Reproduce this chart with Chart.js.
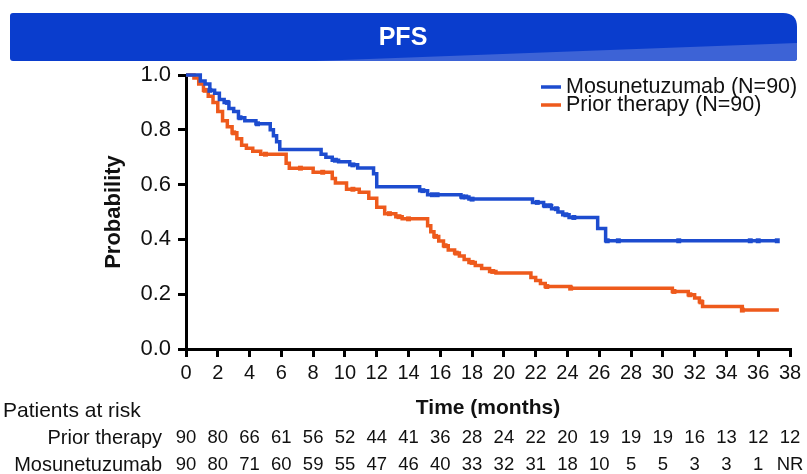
<!DOCTYPE html>
<html>
<head>
<meta charset="utf-8">
<script src="https://cdn.jsdelivr.net/npm/chart.js@4/dist/chart.umd.min.js"></script>
<style>
  html, body { margin: 0; padding: 0; background: #fff; }
  #c { display: block; }
</style>
</head>
<body>
<canvas id="c" width="807" height="474"></canvas>
<script>
// Kaplan-Meier step points: time (months) and survival probability after the step
const mosunTimes = [0, 0.9, 1.2, 1.5, 1.8, 2.1, 2.4, 2.7, 3.0, 3.3, 3.7, 4.4, 5.3, 5.5, 5.7, 5.9, 8.5, 8.8, 9.2, 9.6, 10.3, 10.8, 11.8, 12.0, 14.7, 15.2, 17.3, 17.8, 21.8, 22.5, 23.0, 23.4, 23.7, 24.1, 25.9, 26.4, 37.2];
const mosunSurv  = [1, 0.978, 0.967, 0.944, 0.933, 0.911, 0.9, 0.878, 0.867, 0.844, 0.833, 0.822, 0.8, 0.778, 0.756, 0.728, 0.711, 0.7, 0.689, 0.683, 0.672, 0.661, 0.64, 0.592, 0.578, 0.563, 0.555, 0.547, 0.535, 0.523, 0.512, 0.5, 0.49, 0.48, 0.44, 0.395, 0.395];

const priorTimes = [0, 0.5, 0.8, 1.1, 1.4, 1.7, 2.0, 2.3, 2.6, 2.9, 3.2, 3.5, 3.8, 4.2, 4.7, 6.3, 6.5, 8.0, 9.2, 9.4, 10.1, 10.9, 11.5, 12.0, 12.5, 13.2, 13.6, 15.2, 15.4, 15.6, 15.9, 16.2, 16.5, 16.9, 17.2, 17.5, 17.8, 18.2, 18.6, 19.1, 19.5, 21.7, 22.0, 22.3, 22.6, 24.2, 30.6, 31.6, 32.0, 32.3, 32.5, 35.0, 37.3];
const priorSurv  = [1, 0.989, 0.967, 0.944, 0.922, 0.9, 0.867, 0.833, 0.811, 0.789, 0.767, 0.744, 0.733, 0.722, 0.711, 0.678, 0.66, 0.645, 0.622, 0.606, 0.583, 0.572, 0.55, 0.517, 0.494, 0.483, 0.475, 0.45, 0.428, 0.411, 0.394, 0.377, 0.361, 0.35, 0.339, 0.327, 0.316, 0.305, 0.294, 0.283, 0.277, 0.261, 0.25, 0.239, 0.228, 0.222, 0.21, 0.198, 0.186, 0.172, 0.155, 0.142, 0.142];

// Censoring times (months)
const mosunCensor = [1.5, 2.6, 3.4, 4.5, 9.4, 10.5, 14.9, 15.5, 15.8, 17.4, 17.6, 18.0, 22.1, 22.6, 22.9, 23.3, 23.9, 24.4, 26.5, 27.2, 31.0, 35.5, 36.0, 37.2];
const priorCensor = [1.2, 3.0, 5.0, 7.2, 8.6, 10.5, 12.8, 13.4, 14.0, 15.7, 16.3, 17.0, 18.0, 19.3, 22.7, 24.2, 30.7, 31.7, 32.4, 35.0];

// Patients at risk table
const riskTimes = [0, 2, 4, 6, 8, 10, 12, 14, 16, 18, 20, 22, 24, 26, 28, 30, 32, 34, 36, 38];
const riskPrior = ['90', '80', '66', '61', '56', '52', '44', '41', '36', '28', '24', '22', '20', '19', '19', '19', '16', '13', '12', '12'];
const riskMosun = ['90', '80', '71', '60', '59', '55', '47', '46', '40', '33', '32', '31', '18', '10', '5', '5', '3', '3', '1', 'NR'];

const seriesNames = ['Mosunetuzumab (N=90)', 'Prior therapy (N=90)'];
const BLUE = '#1d4ccf';
const ORANGE = '#ee5a1c';
const FONT = "'Liberation Sans', Arial, sans-serif";

function toPoints(ts, ss) { return ts.map((t, i) => ({ x: t, y: ss[i] })); }
function survAt(ts, ss, t) {
  let v = ss[0];
  for (let i = 0; i < ts.length; i++) { if (ts[i] <= t) v = ss[i]; }
  return v;
}
function censorPoints(cs, ts, ss) { return cs.map(t => ({ x: t, y: survAt(ts, ss, t) })); }

// Title banner
const bannerPlugin = {
  id: 'banner',
  beforeDraw(chart) {
    const ctx = chart.ctx;
    const x0 = 10, y0 = 13, x1 = 797, y1 = 61;
    ctx.save();
    ctx.beginPath();
    ctx.moveTo(x0 + 3, y0);
    ctx.lineTo(x1 - 14, y0);
    ctx.quadraticCurveTo(x1, y0, x1, y0 + 14);
    ctx.lineTo(x1, y1 - 3);
    ctx.quadraticCurveTo(x1, y1, x1 - 3, y1);
    ctx.lineTo(x0 + 3, y1);
    ctx.quadraticCurveTo(x0, y1, x0, y1 - 3);
    ctx.lineTo(x0, y0 + 3);
    ctx.quadraticCurveTo(x0, y0, x0 + 3, y0);
    ctx.closePath();
    ctx.fillStyle = '#0a3dcd';
    ctx.fill();
    ctx.clip();
    ctx.beginPath();
    ctx.moveTo(315, y1);
    ctx.lineTo(x1, 43);
    ctx.lineTo(x1, y1);
    ctx.closePath();
    ctx.fillStyle = '#3d63d6';
    ctx.fill();
    ctx.restore();
    ctx.save();
    ctx.fillStyle = '#ffffff';
    ctx.font = "bold 25px " + FONT;
    ctx.textAlign = 'center';
    ctx.textBaseline = 'middle';
    ctx.fillText('PFS', 403, 38);
    ctx.restore();
  }
};

// Legend drawn inside the plot, top right
const legendPlugin = {
  id: 'kmLegend',
  afterDraw(chart) {
    const ctx = chart.ctx;
    const items = chart.data.datasets.filter(d => d.inLegend);
    ctx.save();
    ctx.font = "21.5px " + FONT;
    ctx.textBaseline = 'middle';
    ctx.textAlign = 'left';
    items.forEach((d, i) => {
      const y = 87 + i * 18;
      ctx.strokeStyle = d.borderColor;
      ctx.lineWidth = 3.5;
      ctx.beginPath();
      ctx.moveTo(541, y);
      ctx.lineTo(561, y);
      ctx.stroke();
      ctx.fillStyle = '#111';
      ctx.fillText(d.label, 566, y);
    });
    ctx.restore();
  }
};

// Patients-at-risk table below the time axis
const riskPlugin = {
  id: 'riskTable',
  afterDraw(chart) {
    const ctx = chart.ctx;
    const xs = chart.scales.x;
    ctx.save();
    ctx.fillStyle = '#111';
    ctx.textBaseline = 'middle';
    ctx.font = "21px " + FONT;
    ctx.textAlign = 'left';
    ctx.fillText('Patients at risk', 3, 411);
    ctx.font = "20px " + FONT;
    ctx.textAlign = 'right';
    ctx.fillText('Prior therapy', 162, 438);
    ctx.fillText('Mosunetuzumab', 162, 465);
    ctx.font = "18.5px " + FONT;
    ctx.textAlign = 'center';
    riskTimes.forEach((t, i) => {
      const px = xs.getPixelForValue(t);
      ctx.fillText(riskPrior[i], px, 438);
      ctx.fillText(riskMosun[i], px, 465);
    });
    ctx.restore();
  }
};

new Chart(document.getElementById('c'), {
  type: 'line',
  data: {
    datasets: [
      {
        label: seriesNames[0], inLegend: true,
        data: toPoints(mosunTimes, mosunSurv),
        borderColor: BLUE, backgroundColor: BLUE, borderWidth: 3.5,
        stepped: 'before', pointRadius: 0, fill: false, clip: 6, order: 1
      },
      {
        label: seriesNames[1], inLegend: true,
        data: toPoints(priorTimes, priorSurv),
        borderColor: ORANGE, backgroundColor: ORANGE, borderWidth: 3.5,
        stepped: 'before', pointRadius: 0, fill: false, clip: 6, order: 2
      },
      {
        label: 'censor-m', inLegend: false,
        data: censorPoints(mosunCensor, mosunTimes, mosunSurv),
        showLine: false, pointStyle: 'rect', pointRadius: 3.5,
        backgroundColor: BLUE, borderColor: BLUE, borderWidth: 0, clip: 6, order: 0
      },
      {
        label: 'censor-p', inLegend: false,
        data: censorPoints(priorCensor, priorTimes, priorSurv),
        showLine: false, pointStyle: 'rect', pointRadius: 3.5,
        backgroundColor: ORANGE, borderColor: ORANGE, borderWidth: 0, clip: 6, order: 0
      }
    ]
  },
  options: {
    responsive: false,
    animation: false,
    events: [],
    layout: { padding: { left: 0, top: 75, right: 17, bottom: 54 } },
    plugins: { legend: { display: false }, tooltip: { enabled: false } },
    scales: {
      x: {
        type: 'linear', min: 0, max: 38,
        afterFit(s) { s.height = 71; },
        ticks: { stepSize: 2, color: '#111', font: { family: FONT, size: 20 }, padding: 4, maxRotation: 0, autoSkip: false },
        grid: { drawOnChartArea: false, drawTicks: true, tickLength: 8, color: '#000', lineWidth: 3, tickWidth: 3 },
        border: { display: true, color: '#000', width: 3 },
        title: { display: true, text: 'Time (months)', color: '#111', font: { family: FONT, size: 21, weight: 'bold' }, padding: { top: 0, bottom: -1 } }
      },
      y: {
        type: 'linear', min: 0, max: 1,
        afterFit(s) { s.width = 186; },
        ticks: { stepSize: 0.2, color: '#111', font: { family: FONT, size: 22 }, padding: 7, callback: v => v.toFixed(1) },
        grid: { drawOnChartArea: false, drawTicks: true, tickLength: 8, color: '#000', lineWidth: 3, tickWidth: 3 },
        border: { display: true, color: '#000', width: 3 },
        title: { display: true, text: 'Probability', color: '#111', font: { family: FONT, size: 22, weight: 'bold' }, padding: { top: 101, bottom: 0 } }
      }
    }
  },
  plugins: [bannerPlugin, legendPlugin, riskPlugin]
});
</script>
</body>
</html>
